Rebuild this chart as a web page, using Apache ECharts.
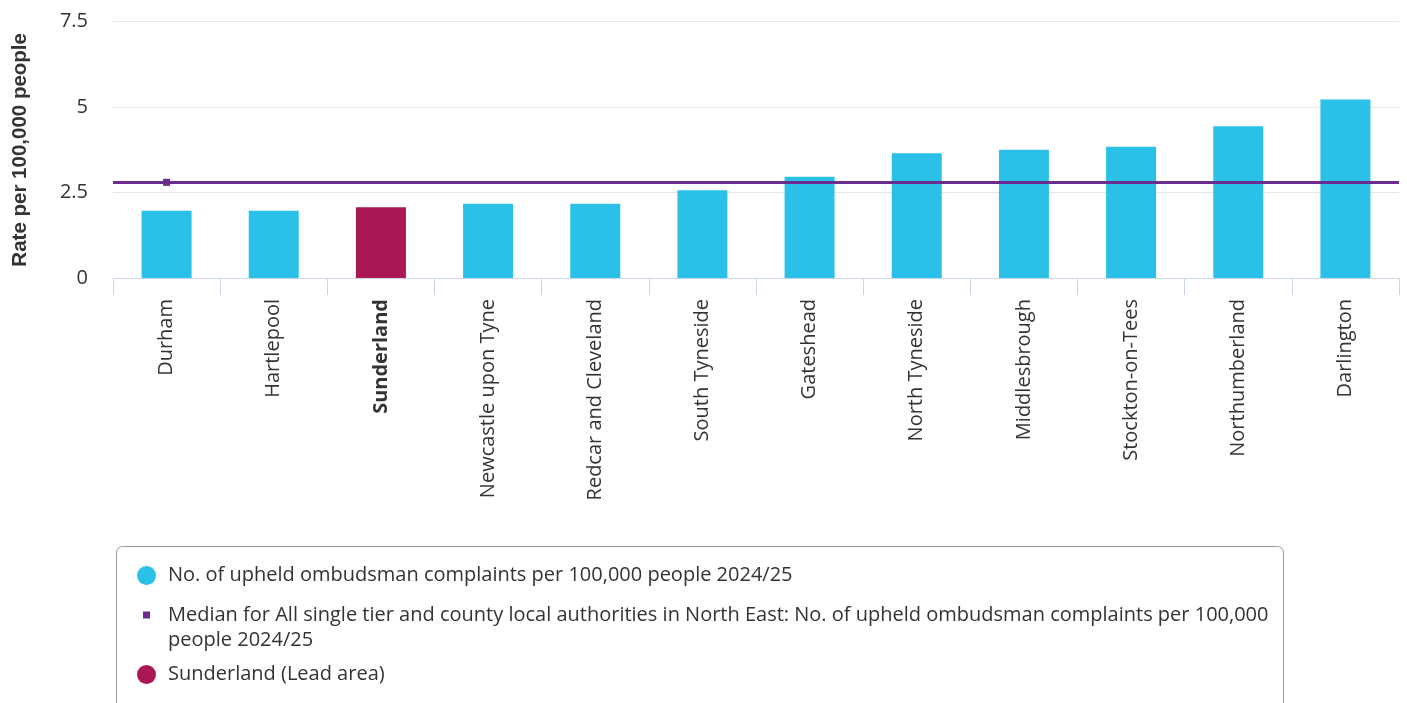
<!DOCTYPE html>
<html>
<head>
<meta charset="utf-8">
<script src="https://cdn.jsdelivr.net/npm/echarts@6/dist/echarts.min.js"></script>
<style>
  html, body { margin: 0; padding: 0; background: #ffffff; }
  #chart { width: 1407px; height: 703px; }
</style>
</head>
<body>
<div id="chart"></div>
<script>
const categories = ['Durham', 'Hartlepool', 'Sunderland', 'Newcastle upon Tyne', 'Redcar and Cleveland', 'South Tyneside', 'Gateshead', 'North Tyneside', 'Middlesbrough', 'Stockton-on-Tees', 'Northumberland', 'Darlington'];
const rateValues = [1.97, 1.97, 2.07, 2.17, 2.17, 2.57, 2.96, 3.65, 3.75, 3.84, 4.44, 5.22];
const medianValue = 2.80;
const leadArea = 'Sunderland';
const yTicks = [0, 2.5, 5, 7.5];

const seriesNames = {
  rate: 'No. of upheld ombudsman complaints per 100,000 people 2024/25',
  median: 'Median for All single tier and county local authorities in North East: No. of upheld ombudsman complaints per 100,000 people 2024/25',
  lead: 'Sunderland (Lead area)'
};

const COLORS = { rate: '#2bc0e8', lead: '#a91855', median: '#6c2b8f' };
const FONT = '"Open Sans", sans-serif';

const chart = echarts.init(document.getElementById('chart'), null, { renderer: 'canvas' });

const barData = rateValues.map((v, i) => categories[i] === leadArea
  ? { value: v, itemStyle: { color: COLORS.lead } }
  : v);

const legendText = { color: '#333333', fontFamily: FONT, fontSize: 20, lineHeight: 25 };

chart.setOption({
  animation: false,
  backgroundColor: '#ffffff',
  grid: { left: 113, right: 8, top: 21.7, bottom: 425, containLabel: false },
  xAxis: {
    type: 'category',
    data: categories,
    boundaryGap: true,
    axisLine: { show: true, lineStyle: { color: '#ccd6eb', width: 1 } },
    axisTick: { show: true, length: 17, lineStyle: { color: '#ccd6eb' }, alignWithLabel: false },
    axisLabel: {
      rotate: 90,
      margin: 21,
      interval: 0,
      color: '#333333',
      fontFamily: FONT,
      fontSize: 20,
      formatter: v => v === leadArea ? '{b|' + v + '}' : v,
      rich: { b: { fontWeight: 'bold', fontFamily: FONT, fontSize: 20, color: '#333333' } }
    },
    splitLine: { show: false }
  },
  yAxis: {
    type: 'value',
    min: yTicks[0],
    max: yTicks[yTicks.length - 1],
    interval: 2.5,
    name: 'Rate per 100,000 people',
    nameLocation: 'middle',
    nameRotate: 90,
    nameGap: 82,
    nameTextStyle: { fontFamily: '"Liberation Sans", Arial, sans-serif', fontWeight: 'bold', fontSize: 20.5, color: '#333333' },
    axisLine: { show: false },
    axisTick: { show: false },
    axisLabel: { color: '#333333', fontFamily: FONT, fontSize: 20, margin: 25, formatter: v => String(v) },
    splitLine: { show: true, lineStyle: { color: '#e6e6e6', width: 1 } }
  },
  legend: [
    {
      data: [seriesNames.rate], orient: 'vertical', left: 137, top: 563, padding: 0,
      icon: 'circle', itemWidth: 19, itemHeight: 19, selectedMode: false,
      textStyle: Object.assign({ padding: [0, 0, 0, 7] }, legendText)
    },
    {
      data: [seriesNames.median], orient: 'vertical', left: 143, top: 577.5, padding: 0,
      icon: 'rect', itemWidth: 7, itemHeight: 7, selectedMode: false,
      formatter: name => '\n' + name.replace('100,000 people', '100,000\npeople'),
      textStyle: Object.assign({ padding: [0, 0, 0, 13] }, legendText)
    },
    {
      data: [seriesNames.lead], orient: 'vertical', left: 137, top: 662, padding: 0,
      icon: 'circle', itemWidth: 19, itemHeight: 19, selectedMode: false,
      textStyle: Object.assign({ padding: [0, 0, 0, 7] }, legendText)
    }
  ],
  graphic: [
    {
      type: 'rect', silent: true, z: 0,
      shape: { x: 116.5, y: 546.5, width: 1167, height: 180, r: 6 },
      style: { fill: 'none', stroke: '#999999', lineWidth: 1 }
    }
  ],
  series: [
    {
      name: seriesNames.rate,
      type: 'bar',
      data: barData,
      barWidth: 50,
      itemStyle: { color: COLORS.rate },
      z: 2
    },
    {
      name: seriesNames.median,
      type: 'line',
      data: [medianValue],
      symbol: 'rect',
      symbolSize: 7,
      showSymbol: true,
      itemStyle: { color: COLORS.median },
      lineStyle: { color: COLORS.median, width: 3 },
      z: 4,
      markLine: {
        silent: true,
        symbol: ['none', 'none'],
        label: { show: false },
        lineStyle: { color: COLORS.median, width: 3, type: 'solid' },
        data: [{ yAxis: medianValue }],
        z: 3
      }
    },
    {
      name: seriesNames.lead,
      type: 'scatter',
      data: [],
      itemStyle: { color: COLORS.lead, opacity: 1 }
    }
  ]
});
</script>
</body>
</html>
